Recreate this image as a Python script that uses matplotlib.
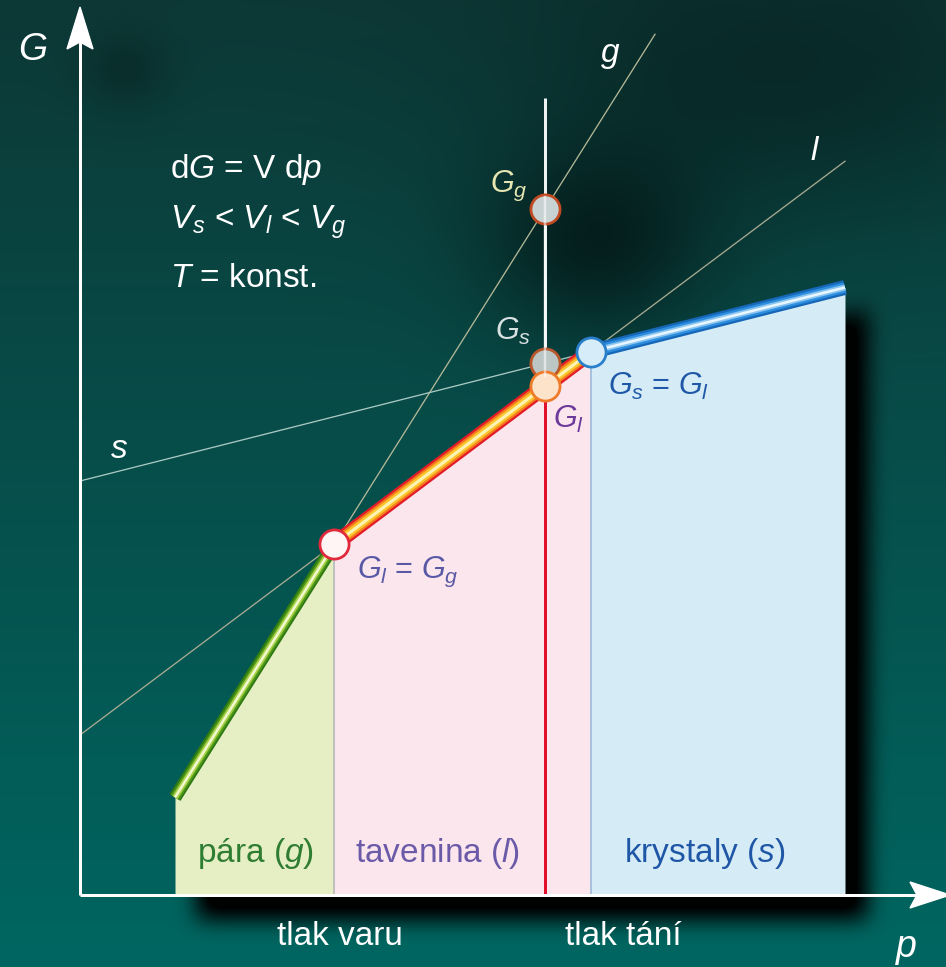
import numpy as np
import matplotlib
matplotlib.use("Agg")
import matplotlib.pyplot as plt
from matplotlib.patches import Polygon

plt.rcParams['font.family'] = ['Liberation Sans', 'DejaVu Sans']
plt.rcParams['mathtext.fontset'] = 'custom'
plt.rcParams['mathtext.rm'] = 'Liberation Sans'
plt.rcParams['mathtext.it'] = 'Liberation Sans:italic'
plt.rcParams['mathtext.bf'] = 'Liberation Sans:bold'

# G(p) = G0 + V * p for each phase at constant temperature
phases = ['g', 'l', 's']
molar_volume = [1.59, 0.75, 0.253]      # slope dG/dp
g_at_zero = [-0.535, 1.60, 4.14]        # value of G at p = 0
p_start = 0.95          # left end of the vapour branch
p_end = 7.65            # right end of the solid branch
p_probe = 4.65          # pressure where the three G values are compared
probe_top = 7.97        # top of the probe line
g_line_end = 5.75       # end of the thin g line
region_labels = ['pára ($g$)', 'tavenina ($l$)', 'krystaly ($s$)']
tick_labels = ['tlak varu', 'tlak tání']

XLIM = (-0.8, 8.66)
YLIM = (-0.72, 8.95)
W, H = 946, 967


def G(phase, p):
    i = phases.index(phase)
    return g_at_zero[i] + molar_volume[i] * np.asarray(p, dtype=float)


Vg, Vl, Vs = molar_volume
Gg0, Gl0, Gs0 = g_at_zero
p_boil = (Gl0 - Gg0) / (Vg - Vl)
p_melt = (Gs0 - Gl0) / (Vl - Vs)


def envelope(p):
    return np.minimum(np.minimum(G('g', p), G('l', p)), G('s', p))


# ---------- background with soft shadows ----------
def box_blur(a, r, axis):
    pad = [(0, 0), (0, 0)]
    pad[axis] = (r + 1, r)
    b = np.pad(a, pad, mode='edge')
    c = np.cumsum(b, axis=axis)
    if axis == 0:
        return (c[2 * r + 1:, :] - c[:-2 * r - 1, :]) / (2 * r + 1)
    return (c[:, 2 * r + 1:] - c[:, :-2 * r - 1]) / (2 * r + 1)


def blur(a, r):
    for _ in range(3):
        a = box_blur(a, r, 0)
        a = box_blur(a, r, 1)
    return a


dx = (XLIM[1] - XLIM[0]) / W
dy = (YLIM[1] - YLIM[0]) / H
px = XLIM[0] + (np.arange(W) + 0.5) * dx
py = YLIM[1] - (np.arange(H) + 0.5) * dy
PP, GG = np.meshgrid(px, py)

t = (np.arange(H) / (H - 1))[:, None]
top = np.array([0.05, 0.22, 0.21])
bot = np.array([0.0, 0.40, 0.38])
bg = top[None, None, :] * (1 - t[..., None]) + bot[None, None, :] * t[..., None]
bg = np.broadcast_to(bg, (H, W, 3)).copy()

# darker spots
jj, ii = np.meshgrid(np.arange(W), np.arange(H))
dark = 0.50 * np.exp(-(((jj - 595) / 110.0) ** 2 + ((ii - 245) / 95.0) ** 2))
dark += 0.22 * np.exp(-(((jj - 125) / 45.0) ** 2 + ((ii - 70) / 40.0) ** 2))
dark += 0.30 * np.exp(-(((jj - 780) / 260.0) ** 2 + ((ii - 80) / 140.0) ** 2))
bg *= (1 - np.clip(dark, 0, 0.8))[..., None]

# drop shadow of the phase regions
shift = 0.22
Ps, Gs_ = PP - shift, GG + shift
mask = ((Ps >= p_start) & (Ps <= p_end) & (Gs_ >= -0.02) &
        (Gs_ <= envelope(Ps))).astype(float)
shadow = blur(mask, 10)
bg *= (1 - 0.97 * np.clip(shadow * 1.2, 0, 1))[..., None]

fig = plt.figure(figsize=(W / 100, H / 100), dpi=100)
ax = fig.add_axes([0, 0, 1, 1])
ax.set_xlim(*XLIM)
ax.set_ylim(*YLIM)
ax.axis('off')
ax.imshow(bg, extent=(XLIM[0], XLIM[1], YLIM[0], YLIM[1]), origin='upper',
          aspect='auto', zorder=0, interpolation='bilinear')

PT = 0.72  # points per pixel

# ---------- phase regions ----------
pg = np.array([p_start, p_boil])
pl = np.array([p_boil, p_melt])
ps = np.array([p_melt, p_end])
ax.fill_between(pg, 0, G('g', pg), color='#e6eec4', lw=0, zorder=2)
ax.fill_between(pl, 0, G('l', pl), color='#fbe6ee', lw=0, zorder=2)
ax.fill_between(ps, 0, G('s', ps), color='#d5ecf7', lw=0, zorder=2)
ax.plot([p_boil, p_boil], [0, G('g', p_boil)], color='#c0c0c0', lw=2 * PT, zorder=3)
ax.plot([p_melt, p_melt], [0, G('s', p_melt)], color='#a9c1dc', lw=2 * PT, zorder=3)

# ---------- thin reference lines ----------
pp = np.array([p_boil, g_line_end])
ax.plot(pp, G('g', pp), color='#b4b898', lw=1.3 * PT, zorder=1.5)
pp = np.array([0.0, p_end])
ax.plot(pp, G('l', pp), color='#a9ab92', lw=1.3 * PT, zorder=1.5)
pp = np.array([0.0, p_melt])
ax.plot(pp, G('s', pp), color='#a9c9c2', lw=1.3 * PT, zorder=1.5)

# ---------- probe line at constant p ----------
ax.plot([p_probe, p_probe], [0, G('l', p_probe)], color='#e0102c', lw=3 * PT,
        zorder=4, solid_capstyle='butt')
ax.plot([p_probe, p_probe], [G('l', p_probe), probe_top], color='#eef2f2',
        lw=3 * PT, zorder=4, solid_capstyle='butt')


# ---------- striped thick branches ----------
def striped(x, y, layers, z):
    for col, w in layers:
        ax.plot(x, y, color=col, lw=w * PT, solid_capstyle='butt', zorder=z)


striped(pg, G('g', pg), [('#2e7813', 13), ('#4f9a18', 9.5), ('#a9d04a', 6),
                         ('#f2f8d0', 2.5)], 5)
striped(pl, G('l', pl), [('#e31d27', 16), ('#f57d1f', 11.5), ('#fcc62c', 7.5),
                         ('#fff4b8', 3)], 5)
striped(ps, G('s', ps), [('#1767b8', 15), ('#2d8ddf', 10.5), ('#8cc6f0', 6),
                         ('#eaf7ff', 2.5)], 5)

# ---------- markers ----------
ms = 21
ax.plot(p_boil, G('g', p_boil), 'o', ms=ms, mfc='#fff5f5', mec='#e02a3c', mew=2, zorder=6)
ax.plot(p_melt, G('s', p_melt), 'o', ms=ms, mfc='#d6ecf8', mec='#2a7fcb', mew=2, zorder=6)
ax.plot(p_probe, G('g', p_probe), 'o', ms=ms, mfc='#c9d2d2', mec='#c04a22', mew=2, zorder=6)
ax.plot(p_probe, G('s', p_probe), 'o', ms=ms, mfc='#bcc7c5', mec='#b9562a', mew=2, zorder=6)
ax.plot(p_probe, G('l', p_probe), 'o', ms=ms, mfc='#fde3c9', mec='#ee7a2a', mew=2, zorder=6)
ax.plot([p_probe, p_probe], [G('l', p_probe) + 0.10, G('g', p_probe) + 0.12],
        color='white', lw=2.5 * PT, alpha=0.55, zorder=6.5)

# ---------- axes with arrows ----------
x_tip, y_tip = 8.70, 8.88
ax.plot([0, x_tip - 0.3], [0, 0], color='white', lw=3 * PT, zorder=7, solid_capstyle='butt')
ax.plot([0, 0], [0, y_tip - 0.3], color='white', lw=3 * PT, zorder=7, solid_capstyle='butt')
ax.add_patch(Polygon([(0, y_tip), (-0.13, y_tip - 0.42), (0, y_tip - 0.35),
                      (0.13, y_tip - 0.42)], closed=True, color='white', zorder=7))
ax.add_patch(Polygon([(x_tip, 0), (x_tip - 0.40, 0.13), (x_tip - 0.33, 0),
                      (x_tip - 0.40, -0.13)], closed=True, color='white', zorder=7))

# ---------- text ----------
fs = 24
ax.text(-0.47, 8.45, '$G$', fontsize=27, color='white', ha='center', va='center', zorder=8)
ax.text(8.26, -0.62, '$p$', fontsize=27, color='white', ha='center', va='baseline', zorder=8)
ax.text(5.30, 8.33, '$g$', fontsize=fs, color='white', ha='center', va='baseline', zorder=8)
ax.text(7.35, 7.35, '$l$', fontsize=fs, color='white', ha='center', va='baseline', zorder=8)
ax.text(0.39, 4.37, '$s$', fontsize=fs, color='white', ha='center', va='baseline', zorder=8)

ax.text(0.90, 7.17, 'd$G$ = V d$p$', fontsize=fs, color='white', va='baseline', zorder=8)
ax.text(0.90, 6.66, '$V_{s}$ < $V_{l}$ < $V_{g}$', fontsize=fs, color='white',
        va='baseline', zorder=8)
ax.text(0.90, 6.08, '$T$ = konst.', fontsize=fs, color='white', va='baseline', zorder=8)

ax.text(4.47, 7.03, '$G_{g}$', fontsize=22, color='#e6e6b2', ha='right', va='baseline', zorder=8)
ax.text(4.15, 5.55, '$G_{s}$', fontsize=22, color='#d9e2e2', ha='left', va='baseline', zorder=8)
ax.text(4.73, 4.67, '$G_{l}$', fontsize=22, color='#6b3a9a', ha='left', va='baseline', zorder=8)
ax.text(5.28, 5.00, '$G_{s}$ = $G_{l}$', fontsize=22, color='#1e58a6', ha='left',
        va='baseline', zorder=8)
ax.text(2.77, 3.17, '$G_{l}$ = $G_{g}$', fontsize=22, color='#5858a4', ha='left',
        va='baseline', zorder=8)

label_x = [1.75, 3.58, 6.25]
label_colors = ['#2e7d32', '#6a5aa8', '#1f57a6']
for x, txt, c in zip(label_x, region_labels, label_colors):
    ax.text(x, 0.33, txt, fontsize=fs, color=c, ha='center', va='baseline', zorder=8)

for x, txt in zip([p_boil + 0.06, p_melt + 0.32], tick_labels):
    ax.text(x, -0.50, txt, fontsize=fs, color='white', ha='center', va='baseline', zorder=8)

fig.savefig('out.png', dpi=100)
